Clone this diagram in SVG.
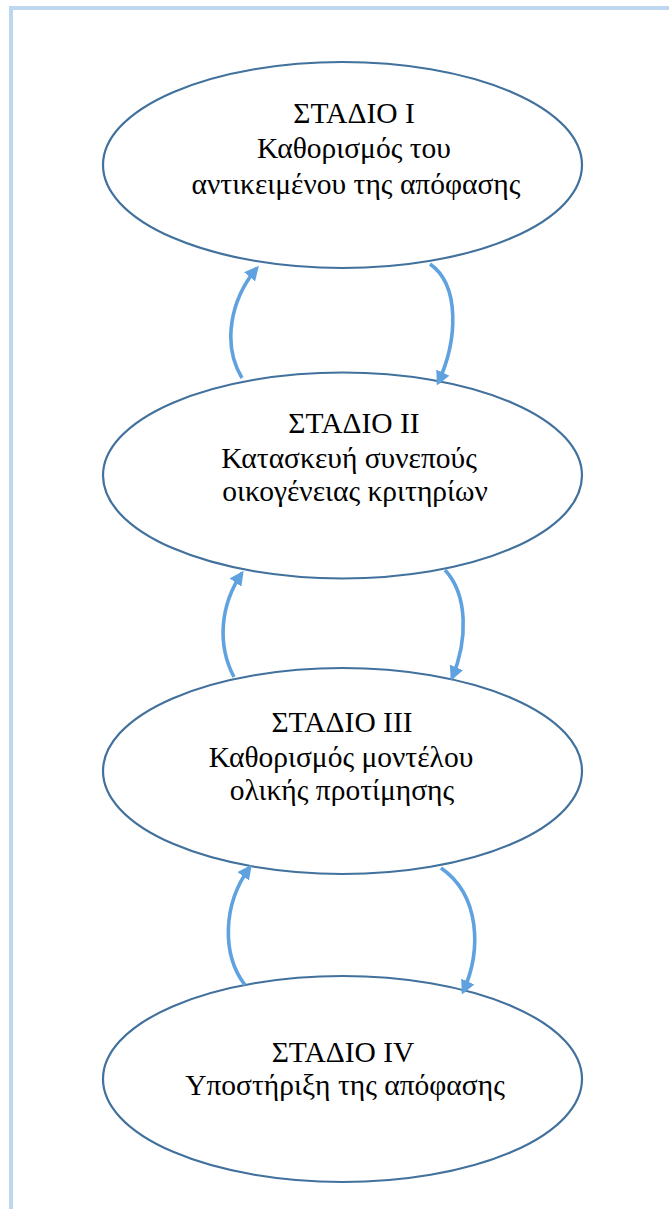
<svg xmlns="http://www.w3.org/2000/svg" width="669" height="1209" viewBox="0 0 669 1209">
<defs>
<style>
.frame{fill:none;stroke:#BDD7EE;stroke-width:4}
.node ellipse{fill:#FFFFFF;stroke:#41719C;stroke-width:2.2}
.node text{font-family:"Liberation Serif","Times New Roman",serif;font-size:29.5px;fill:#000000;text-anchor:middle}
.conn path{fill:none;stroke:#5FA2DF;stroke-width:3.6;marker-end:url(#ah)}
</style>
<marker id="ah" viewBox="0 0 10 10" refX="8" refY="5" markerWidth="4" markerHeight="4" orient="auto" markerUnits="strokeWidth">
<path d="M0,0 L10,5 L0,10 z" fill="#5FA2DF"/>
</marker>
</defs>
<rect width="669" height="1209" fill="#FFFFFF"/>
<path class="frame" d="M11,1209 V8 H669"/>
<g id="node1" class="node">
<ellipse cx="342.5" cy="165" rx="239.5" ry="103"/>
<text x="354" y="123">ΣΤΑΔΙΟ Ι</text>
<text x="354" y="158">Καθορισμός του</text>
<text x="356" y="194">αντικειμένου της απόφασης</text>
</g>
<g id="node2" class="node">
<ellipse cx="342.5" cy="475.5" rx="239.5" ry="103"/>
<text x="354" y="433">ΣΤΑΔΙΟ ΙΙ</text>
<text x="349" y="468">Κατασκευή συνεπούς</text>
<text x="355" y="501">οικογένειας κριτηρίων</text>
</g>
<g id="node3" class="node">
<ellipse cx="342.5" cy="771" rx="239.5" ry="103"/>
<text x="342" y="732">ΣΤΑΔΙΟ ΙΙΙ</text>
<text x="341" y="767">Καθορισμός μοντέλου</text>
<text x="342" y="800">ολικής προτίμησης</text>
</g>
<g id="node4" class="node">
<ellipse cx="342.5" cy="1079" rx="239.5" ry="103"/>
<text x="343" y="1062">ΣΤΑΔΙΟ ΙV</text>
<text x="345" y="1095">Υποστήριξη της απόφασης</text>
</g>
<g id="connectors" class="conn">
<path d="M242,378 C222,345 230,300 257,268"/>
<path d="M430,264 C460,285 458,340 438,383"/>
<path d="M234,677 C217,645 220,605 242,573"/>
<path d="M445,570 C468,595 468,640 452,678"/>
<path d="M245,985 C222,955 222,905 250,867"/>
<path d="M441,868 C480,895 482,950 463,992"/>
</g>
</svg>
